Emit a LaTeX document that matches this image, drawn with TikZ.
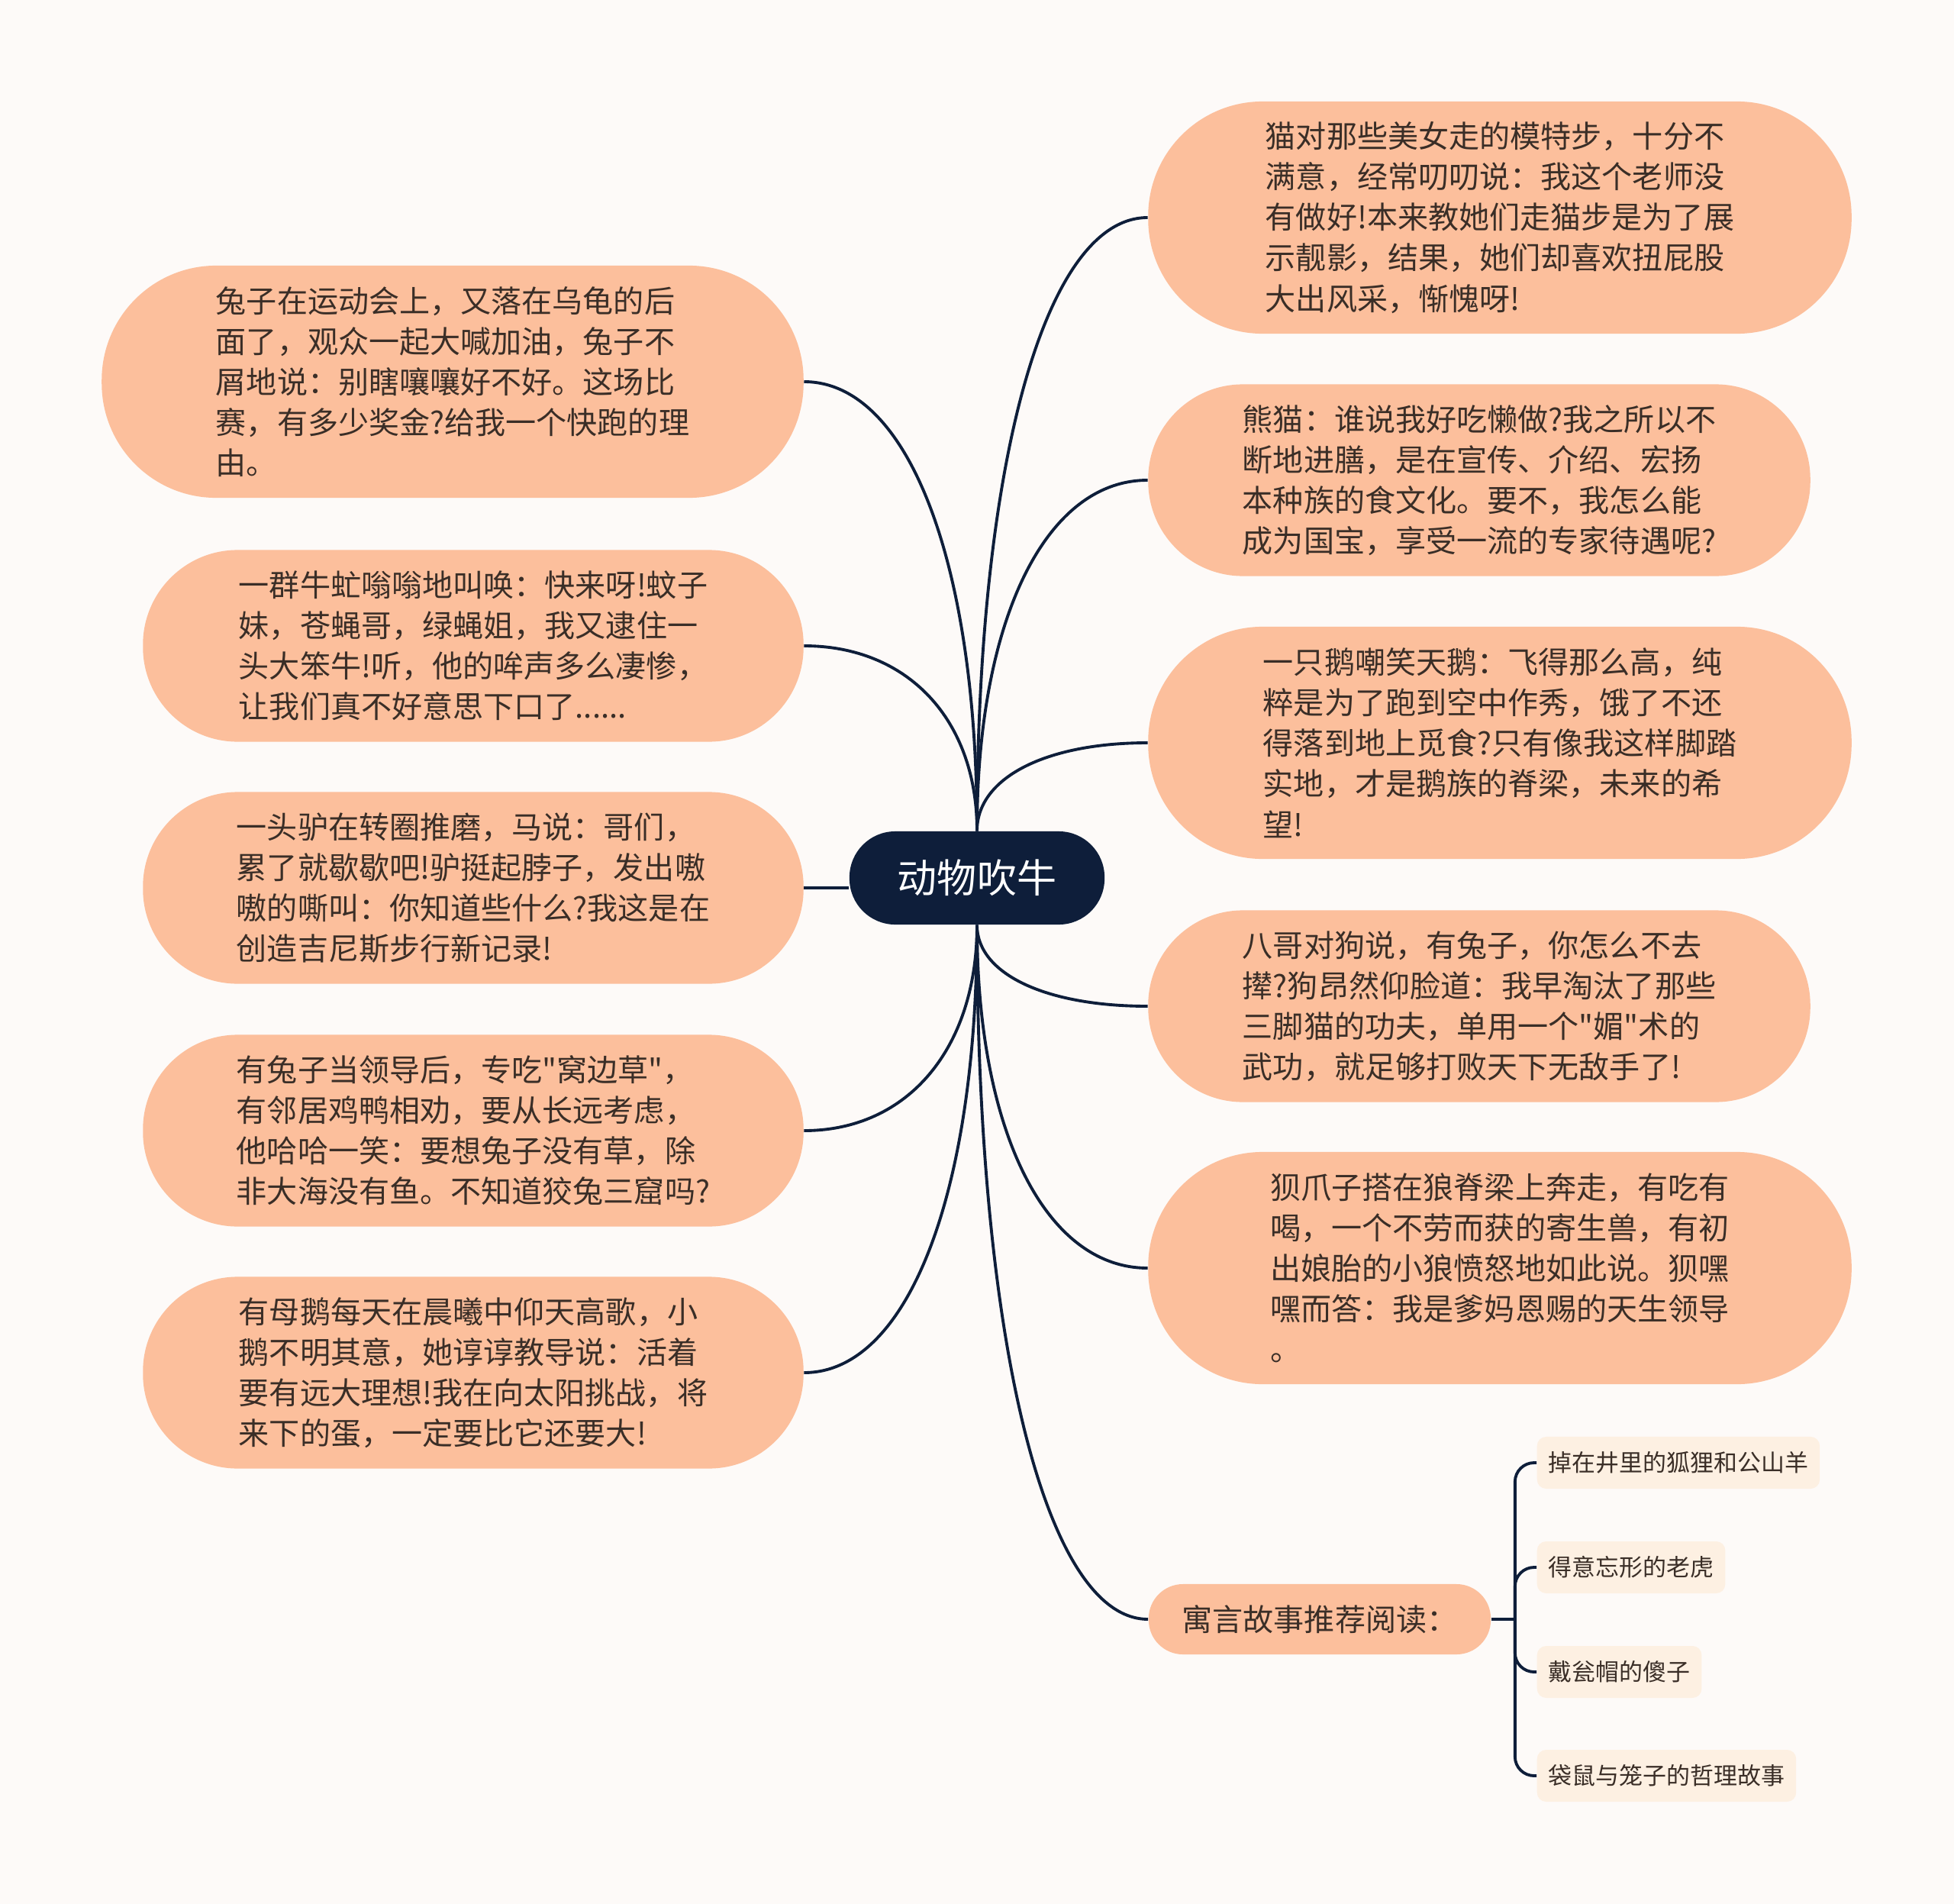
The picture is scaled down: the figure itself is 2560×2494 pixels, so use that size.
\documentclass[tikz,border=0pt]{standalone}
\usepackage{fontspec}
\setmainfont{Noto Sans CJK SC}[Ligatures=TeXOff]
\usetikzlibrary{calc}
\definecolor{paper}{HTML}{FDFAF8}
\definecolor{peach}{HTML}{FCBF9C}
\definecolor{navy}{HTML}{0E1E3A}
\definecolor{cream}{HTML}{FDF0E2}
\definecolor{ink}{HTML}{3A2E27}
\begin{document}
\begin{tikzpicture}[x=0.01cm,y=-0.01cm,
  link/.style={navy,line width=1.1pt},
  bubble/.style={fill=peach,text=ink,align=left,inner sep=0pt,
    font=\fontsize{11.4pt}{15.1pt}\selectfont},
  fivelines/.style={bubble,minimum height=3.04cm,rounded corners=1.5cm},
  fourlines/.style={bubble,minimum height=2.51cm,rounded corners=1.24cm},
  leaf/.style={fill=cream,text=ink,anchor=west,inner xsep=0.15cm,
    minimum height=0.68cm,rounded corners=0.12cm,
    font=\fontsize{8.8pt}{10pt}\selectfont}]
  \fill[paper] (0,0) rectangle (2560,2494);
  % root
  \node[fill=navy,text=white,minimum width=3.34cm,minimum height=1.22cm,
    rounded corners=0.6cm,font=\fontsize{14.8pt}{18pt}\selectfont]
    (hub) at (1280,1150) {动物吹牛};
  % left side
  \node[fivelines,minimum width=9.19cm] (l1) at (593,500) {兔子在运动会上，又落在乌龟的后\\面了，观众一起大喊加油，兔子不\\屑地说：别瞎嚷嚷好不好。这场比\\赛，有多少奖金?给我一个快跑的理\\由。};
  \node[fourlines,minimum width=8.65cm] (l2) at (620,846) {一群牛虻嗡嗡地叫唤：快来呀!蚊子\\妹，苍蝇哥，绿蝇姐，我又逮住一\\头大笨牛!听，他的哞声多么凄惨，\\让我们真不好意思下口了......};
  \node[fourlines,minimum width=8.65cm] (l3) at (620,1163) {一头驴在转圈推磨，马说：哥们，\\累了就歇歇吧!驴挺起脖子，发出嗷\\嗷的嘶叫：你知道些什么?我这是在\\创造吉尼斯步行新记录!};
  \node[fourlines,minimum width=8.65cm] (l4) at (620,1481) {有兔子当领导后，专吃"窝边草"，\\有邻居鸡鸭相劝，要从长远考虑，\\他哈哈一笑：要想兔子没有草，除\\非大海没有鱼。不知道狡兔三窟吗?};
  \node[fourlines,minimum width=8.65cm] (l5) at (620,1798) {有母鹅每天在晨曦中仰天高歌，小\\鹅不明其意，她谆谆教导说：活着\\要有远大理想!我在向太阳挑战，将\\来下的蛋，一定要比它还要大!};
  % right side
  \node[fivelines,minimum width=9.21cm] (r1) at (1965,285) {猫对那些美女走的模特步，十分不\\满意，经常叨叨说：我这个老师没\\有做好!本来教她们走猫步是为了展\\示靓影，结果，她们却喜欢扭屁股\\大出风采，惭愧呀!};
  \node[fourlines,minimum width=8.67cm] (r2) at (1938,629) {熊猫：谁说我好吃懒做?我之所以不\\断地进膳，是在宣传、介绍、宏扬\\本种族的食文化。要不，我怎么能\\成为国宝，享受一流的专家待遇呢?};
  \node[fivelines,minimum width=9.21cm] (r3) at (1965,973) {一只鹅嘲笑天鹅：飞得那么高，纯\\粹是为了跑到空中作秀，饿了不还\\得落到地上觅食?只有像我这样脚踏\\实地，才是鹅族的脊梁，未来的希\\望!};
  \node[fourlines,minimum width=8.67cm] (r4) at (1938,1318) {八哥对狗说，有兔子，你怎么不去\\撵?狗昂然仰脸道：我早淘汰了那些\\三脚猫的功夫，单用一个"媚"术的\\武功，就足够打败天下无敌手了!};
  \node[fivelines,minimum width=9.21cm] (r5) at (1965,1661) {狈爪子搭在狼脊梁上奔走，有吃有\\喝，一个不劳而获的寄生兽，有初\\出娘胎的小狼愤怒地如此说。狈嘿\\嘿而答：我是爹妈恩赐的天生领导\\。};
  \node[bubble,minimum width=4.48cm,minimum height=0.92cm,rounded corners=0.45cm]
    (r6) at (1729,2121) {寓言故事推荐阅读：};
  % reading list
  \node[leaf] (s1) at (2013,1916) {掉在井里的狐狸和公山羊};
  \node[leaf] (s2) at (2013,2053) {得意忘形的老虎};
  \node[leaf] (s3) at (2013,2190) {戴瓮帽的傻子};
  \node[leaf] (s4) at (2013,2326) {袋鼠与笼子的哲理故事};
  % connectors
  \draw[link] (l3.east) -- (l3.east -| hub.west);
  \foreach \n/\a/\s in {l1/north/east,l2/north/east,r1/north/west,r2/north/west,
      r3/north/west,l4/south/east,l5/south/east,r4/south/west,r5/south/west,r6/south/west}{
    \coordinate (k) at (hub.\a |- \n.\s);
    \draw[link] (hub.\a) .. controls ($(hub.\a)!.6!(k)$) and ($(\n.\s)!.6!(k)$) .. (\n.\s);
  }
  \coordinate (fork) at ($(r6.east)+(31,0)$);
  \draw[link] (r6.east) -- (fork);
  \foreach \s in {s1,s2,s3,s4}
    \draw[link,rounded corners=0.25cm] (fork) |- (\s.west);
\end{tikzpicture}
\end{document}
